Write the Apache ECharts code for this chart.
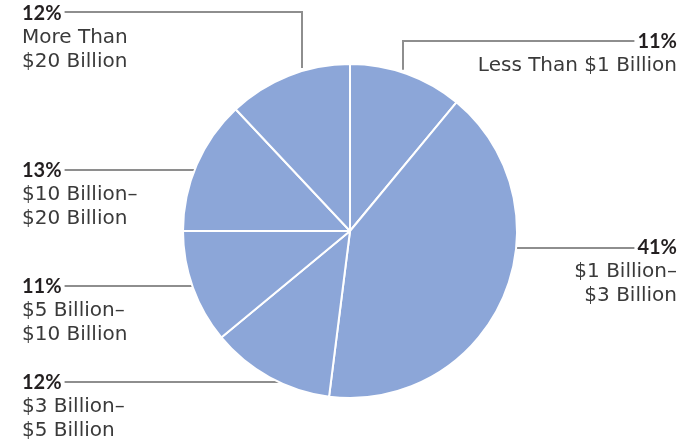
<!DOCTYPE html>
<html>
<head>
<meta charset="utf-8">
<script src="https://cdn.jsdelivr.net/npm/echarts@6/dist/echarts.min.js"></script>
<style>
  html, body { margin: 0; padding: 0; background: #fff; }
  #chart { width: 698px; height: 445px; }
</style>
</head>
<body>
<div id="chart"></div>
<script>
// Share of companies by size band (clockwise from 12 o'clock)
const categories = [
  'Less Than $1 Billion',
  '$1 Billion–\n$3 Billion',
  '$3 Billion–\n$5 Billion',
  '$5 Billion–\n$10 Billion',
  '$10 Billion–\n$20 Billion',
  'More Than\n$20 Billion'
];
const shares = [11, 41, 12, 11, 13, 12];

// Pie geometry
const CX = 350, CY = 231, R = 167;

const PCT_FONT = 'bold 20px Lato';

// Label placement: text anchor, alignment, and leader-line routing.
// 'h' = straight horizontal leader to the rim; 'v' = horizontal then down toward the rim at column col.
const labelPlaces = [
  { x: 677, y: 30,  align: 'right', lineY: 41,  kind: 'v', col: 403 },
  { x: 677, y: 236, align: 'right', lineY: 248, kind: 'h' },
  { x: 22,  y: 371, align: 'left',  lineY: 382, kind: 'h' },
  { x: 22,  y: 275, align: 'left',  lineY: 286, kind: 'h' },
  { x: 22,  y: 159, align: 'left',  lineY: 170, kind: 'h' },
  { x: 22,  y: 2,   align: 'left',  lineY: 12,  kind: 'v', col: 302 }
];

// Width of the bold percentage so the leader starts just past it
const measureCtx = document.createElement('canvas').getContext('2d');
function pctWidth(v) {
  measureCtx.font = PCT_FONT;
  return measureCtx.measureText(v + '%').width;
}

const GAP = 2;
function leaderPoints(p, value) {
  const w = pctWidth(value) + 3;
  const startX = p.align === 'left' ? p.x + w : p.x - w;
  if (p.kind === 'h') {
    const dx = Math.sqrt(R * R - (p.lineY - CY) * (p.lineY - CY)) - GAP;
    const rimX = p.align === 'left' ? CX - dx : CX + dx;
    return [[startX, p.lineY], [rimX, p.lineY]];
  }
  const dy = Math.sqrt(R * R - (p.col - CX) * (p.col - CX)) + GAP + 1;
  return [[startX, p.lineY], [p.col, p.lineY], [p.col, CY - dy]];
}

const data = categories.map((name, i) => ({ name: name, value: shares[i] }));

const chart = echarts.init(document.getElementById('chart'), null, { renderer: 'canvas' });
chart.setOption({
  animation: false,
  backgroundColor: '#ffffff',
  series: [{
    type: 'pie',
    center: [CX, CY],
    radius: [0, R],
    startAngle: 90,
    clockwise: true,
    data: data,
    itemStyle: { color: '#8ca6d8', borderColor: '#ffffff', borderWidth: 2 },
    label: {
      show: true,
      position: 'outside',
      formatter: p => '{p|' + p.value + '%}\n{t|' + p.name.split('\n').join('}\n{t|') + '}',
      rich: {
        p: { fontFamily: 'Lato', fontWeight: 'bold', fontSize: 20, lineHeight: 24, color: '#231f20' },
        t: { fontFamily: 'DejaVu Sans', fontSize: 20, lineHeight: 24, color: '#3a3a3a' }
      }
    },
    labelLine: { show: true, lineStyle: { color: '#8e8e8e', width: 2 } },
    labelLayout: function (params) {
      const p = labelPlaces[params.dataIndex];
      return {
        x: p.x,
        y: p.y,
        align: p.align,
        verticalAlign: 'top',
        labelLinePoints: leaderPoints(p, shares[params.dataIndex])
      };
    }
  }]
});
</script>
</body>
</html>
